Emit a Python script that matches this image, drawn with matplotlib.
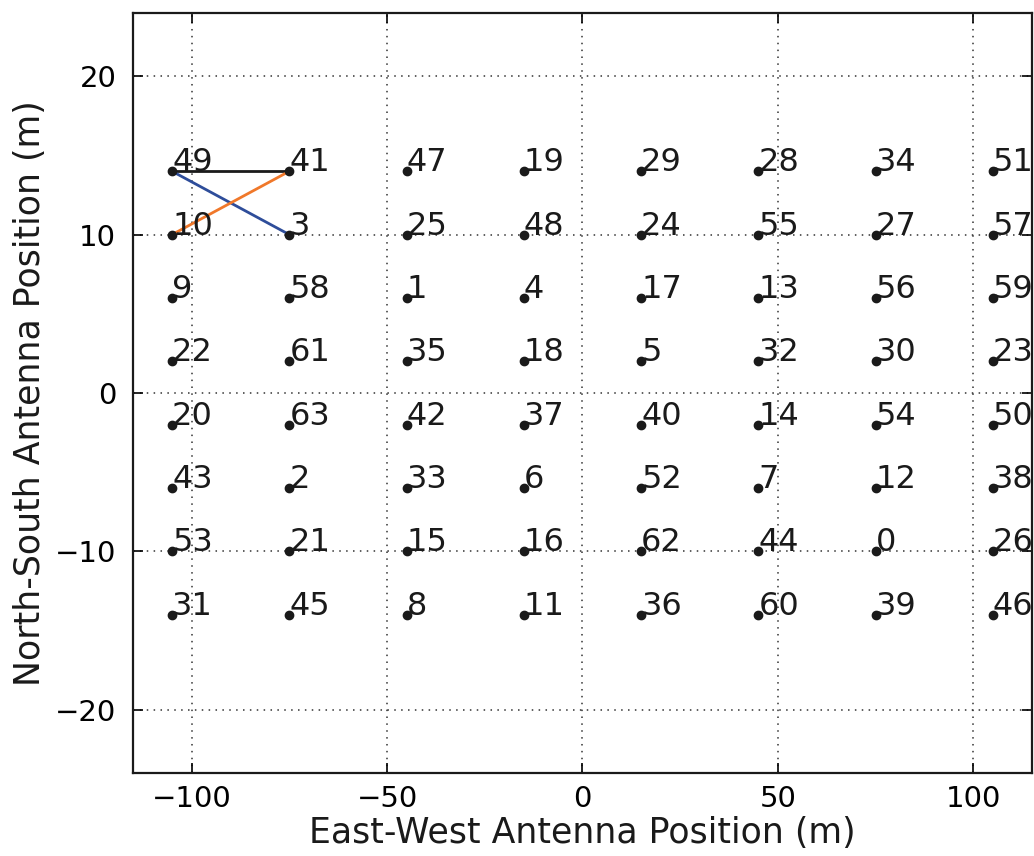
import matplotlib
matplotlib.use("Agg")
import matplotlib.pyplot as plt
import numpy as np

# antenna layout: 8 x 8 grid, rows listed north to south
ew_positions = [-105, -75, -45, -15, 15, 45, 75, 105]
ns_positions = [14, 10, 6, 2, -2, -6, -10, -14]
antenna_ids = [
    [49, 41, 47, 19, 29, 28, 34, 51],
    [10, 3, 25, 48, 24, 55, 27, 57],
    [9, 58, 1, 4, 17, 13, 56, 59],
    [22, 61, 35, 18, 5, 32, 30, 23],
    [20, 63, 42, 37, 40, 14, 54, 50],
    [43, 2, 33, 6, 52, 7, 12, 38],
    [53, 21, 15, 16, 62, 44, 0, 26],
    [31, 45, 8, 11, 36, 60, 39, 46],
]

# baselines drawn between antenna pairs
baseline_pairs = [(49, 41), (49, 3), (10, 41)]
baseline_colors = ["#1a1a1a", "#2e4d9a", "#f0782a"]

xx, yy = np.meshgrid(ew_positions, ns_positions)
ids = np.array(antenna_ids)
pos = {int(a): (x, y) for a, x, y in zip(ids.ravel(), xx.ravel(), yy.ravel())}

plt.rcParams["font.family"] = "DejaVu Sans"
plt.rcParams["lines.scale_dashes"] = True

fig = plt.figure(figsize=(10.34, 8.56), dpi=100)
ax = fig.add_axes([0.1286, 0.0970, 0.8694, 0.8879])

for (a, b), c in zip(baseline_pairs, baseline_colors):
    ax.plot([pos[a][0], pos[b][0]], [pos[a][1], pos[b][1]], color=c, lw=2, zorder=2)

ax.plot(xx.ravel(), yy.ravel(), "o", color="#1a1a1a", ms=6, zorder=3)
for a, (x, y) in pos.items():
    ax.text(x, y, str(a), fontsize=23, color="#1a1a1a", clip_on=False)

ax.set_xlim(-115, 115)
ax.set_ylim(-24, 24)
ax.set_xticks([-100, -50, 0, 50, 100])
ax.set_yticks([-20, -10, 0, 10, 20])
ax.grid(True, color="#333333", linestyle=(0, (1, 3.5)), linewidth=1.1)
ax.tick_params(direction="in", length=7, width=1.2, labelsize=21, top=True, right=True)
ax.tick_params(axis="x", pad=9)
ax.tick_params(axis="y", pad=12)
for s in ax.spines.values():
    s.set_linewidth(1.6)
    s.set_color("#1a1a1a")

ax.set_xlabel("East-West Antenna Position (m)", fontsize=25, labelpad=2, color="#1a1a1a")
ax.set_ylabel("North-South Antenna Position (m)", fontsize=25, labelpad=6, color="#1a1a1a")

fig.savefig("out.png", dpi=100)
